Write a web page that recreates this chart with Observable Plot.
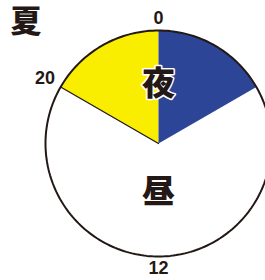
<!DOCTYPE html>
<html><head><meta charset="utf-8">
<script src="https://cdn.jsdelivr.net/npm/d3@7"></script>
<script src="https://cdn.jsdelivr.net/npm/@observablehq/plot@0.6"></script>
<style>
body{margin:0;background:#fff;overflow:hidden}
#wrap{position:relative;width:265px;height:280px;overflow:hidden}
</style></head>
<body><div id="wrap"></div>
<script>
// data
const title = "夏";
const segments = [
  {name: "夜", start: 20, end: 24, color: "#FAEE00"},
  {name: "夜", start: 0, end: 4, color: "#2C4597"}
];
const periodLabels = [
  {text: "夜", hour: 0},
  {text: "昼", hour: 12}
];
const hourTicks = [0, 4, 12, 20];

const ang = h => h / 24 * 2 * Math.PI;
const pt = (h, r) => ({x: r * Math.sin(ang(h)), y: r * Math.cos(ang(h))});

const sectorPts = [];
segments.forEach((s, i) => {
  sectorPts.push({...pt(0, 0), k: i, c: s.color});
  const n = 40;
  for (let j = 0; j <= n; j++) {
    const h = s.start + (s.end - s.start) * j / n;
    sectorPts.push({...pt(h, 1), k: i, c: s.color});
  }
  sectorPts.push({...pt(0, 0), k: i, c: s.color});
});
const circlePts = d3.range(0, 24.001, 0.1).map(h => pt(h, 1));
const radial = [pt(0, 0), pt(20, 1)];
const tickPts = hourTicks.map(h => {
  const r = (h % 12 === 0) ? 1.105 : 1.16;
  return {...pt(h, r), label: String(h)};
});
const labelPts = periodLabels.map(d => ({...pt(d.hour, d.hour === 0 ? 0.52 : 0.43), text: d.text}));

const chart = Plot.plot({
  width: 265, height: 280,
  margin: 0,
  x: {domain: [-1, 1], range: [45, 271], axis: null},
  y: {domain: [-1, 1], range: [256, 30], axis: null},
  style: {background: "white"},
  marks: [
    Plot.line(sectorPts, {x: "x", y: "y", z: "k", fill: "c", stroke: null, curve: "linear"}),
    Plot.line(radial, {x: "x", y: "y", stroke: "#231815", strokeWidth: 1.3}),
    Plot.line(circlePts, {x: "x", y: "y", stroke: "#231815", strokeWidth: 2}),
    Plot.text(tickPts, {x: "x", y: "y", text: "label", fontSize: 18, fontWeight: "bold", fontFamily: "Liberation Sans, Arial", fill: "#231815"}),
    Plot.text(labelPts, {x: "x", y: "y", text: "text", fontSize: 33, fontWeight: 900, fontFamily: "Noto Sans CJK JP", fill: "#231815", stroke: "white", strokeWidth: 3, paintOrder: "stroke"}),
    Plot.text([title], {frameAnchor: "top-left", lineAnchor: "middle", textAnchor: "start", dx: 10, dy: 22, text: d => d, fontSize: 31, fontWeight: 900, fontFamily: "Noto Sans CJK JP", fill: "#231815"})
  ]
});
document.getElementById("wrap").append(chart);
</script></body></html>
